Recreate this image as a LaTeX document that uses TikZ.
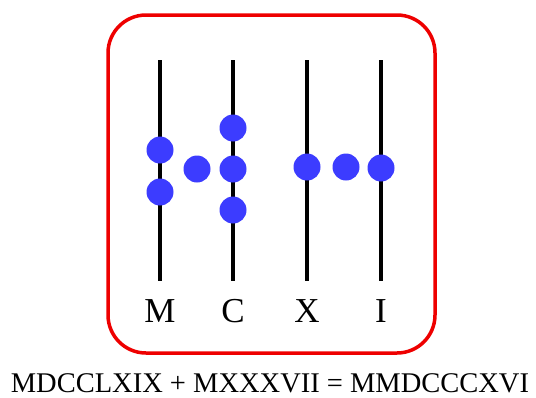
\documentclass[tikz,border=0pt]{standalone}
\usepackage{fontspec}
\setmainfont{Liberation Serif}
\definecolor{beadblue}{HTML}{3C3CFF}
\definecolor{framered}{HTML}{EE0000}
\tikzset{
  rod/.style={line width=4pt, black},
  bead/.style={circle, fill=beadblue, minimum size=27pt, inner sep=0pt},
  frame/.style={draw=framered, line width=3.5pt, rounded corners=38pt},
  lbl/.style={font=\fontsize{35}{35}\selectfont, inner sep=0pt, anchor=base},
  eq/.style={font=\fontsize{28.5}{28.5}\selectfont, inner sep=0pt}
}
\begin{document}
\begin{tikzpicture}[x=1pt,y=-1pt]
\useasboundingbox (0,0) rectangle (536,397);
\draw[frame] (108,15) rectangle (435,353);
\foreach \n/\x in {m/160, c/233, x/307, i/381}{
  \coordinate (\n top) at (\x,60);
  \coordinate (\n bot) at (\x,281);
  \draw[rod] (\n top) -- (\n bot);
}
\node[bead] (m1) at (160,150) {};
\node[bead] (m2) at (160,192) {};
\node[bead] (mc) at (197,169) {};
\node[bead] (c1) at (233,128) {};
\node[bead] (c2) at (233,169) {};
\node[bead] (c3) at (233,210) {};
\node[bead] (x1) at (307,167) {};
\node[bead] (xi) at (346,167) {};
\node[bead] (i1) at (381,168) {};
\node[lbl] (lm) at (160,322.5) {M};
\node[lbl] (lc) at (233,322.5) {C};
\node[lbl] (lx) at (307,322.5) {X};
\node[lbl] (li) at (381,322.5) {I};
\node[eq] (sum) at (270,383) {MDCCLXIX + MXXXVII = MMDCCCXVI};
\end{tikzpicture}
\end{document}
